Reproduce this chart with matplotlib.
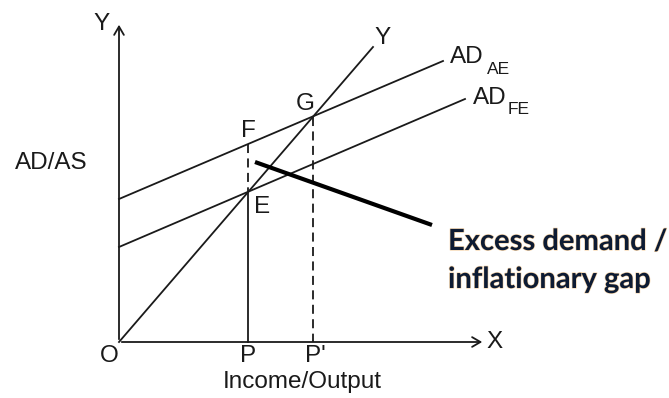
import matplotlib
matplotlib.use("Agg")
import matplotlib.pyplot as plt
import matplotlib.patheffects as pe

# ---- data (diagram units: origin O at (0,0)) ----
y_line_x = [0, 254]
y_line_y = [0, 295]
ad_ae_x = [0, 324]
ad_ae_y = [143, 281]
ad_fe_x = [0, 346]
ad_fe_y = [95, 243]
point_E = (129, 150)
point_F = (129, 198)
point_G = (194, 225)
x_axis_end = 366
y_axis_end = 320
gap_pointer_x = [136, 313]
gap_pointer_y = [180, 117]
tick_labels = ["O", "P", "P'"]
tick_pos = [0, 129, 194]

plt.rcParams['font.family'] = ['Liberation Sans', 'DejaVu Sans']
fig = plt.figure(figsize=(6.69, 3.98), dpi=100)
ax = fig.add_axes([0, 0, 1, 1])
ax.set_xlim(-119, 550)
ax.set_ylim(-56, 342)
ax.axis('off')

lw = 1.3
c = '#1a1a1a'
# axes with open arrowheads
ax.annotate('', xy=(0, y_axis_end), xytext=(0, 0),
            arrowprops=dict(arrowstyle='->,head_length=0.6,head_width=0.35', lw=lw, color=c))
ax.annotate('', xy=(x_axis_end, 0), xytext=(0, 0),
            arrowprops=dict(arrowstyle='->,head_length=0.6,head_width=0.35', lw=lw, color=c))

# lines
ax.plot(y_line_x, y_line_y, color=c, lw=lw)
ax.plot(ad_ae_x, ad_ae_y, color=c, lw=lw)
ax.plot(ad_fe_x, ad_fe_y, color=c, lw=lw)

# verticals
ax.plot([point_F[0], point_E[0]], [point_F[1], point_E[1]], color=c, lw=lw, dashes=(5, 3))
ax.plot([point_E[0], point_E[0]], [point_E[1], 0], color=c, lw=lw)
ax.plot([point_G[0], point_G[0]], [point_G[1], 0], color=c, lw=lw, dashes=(5, 3))

# pointer
ax.plot(gap_pointer_x, gap_pointer_y, color='black', lw=3.0, solid_capstyle='butt')

fs = 17.5
sfs = 12.5
ax.text(-17, 318, 'Y', fontsize=fs, ha='center', va='center', color=c)
ax.text(-104, 179, 'AD/AS', fontsize=fs, ha='left', va='center', color=c)
ax.text(-10, -14, tick_labels[0], fontsize=fs, ha='center', va='center', color=c)
ax.text(tick_pos[1], -14, tick_labels[1], fontsize=fs, ha='center', va='center', color=c)
ax.text(tick_pos[2] + 2, -14, tick_labels[2], fontsize=fs, ha='center', va='center', color=c)
ax.text(183, -40, 'Income/Output', fontsize=fs, ha='center', va='center', color=c)
ax.text(376, 0, 'X', fontsize=fs, ha='center', va='center', color=c)
ax.text(264, 304, 'Y', fontsize=fs, ha='center', va='center', color=c)
ax.text(331, 285, 'AD', fontsize=fs, ha='left', va='center', color=c)
ax.text(368, 273, 'AE', fontsize=sfs, ha='left', va='center', color=c)
ax.text(354, 244, 'AD', fontsize=fs, ha='left', va='center', color=c)
ax.text(389, 233, 'FE', fontsize=sfs, ha='left', va='center', color=c)
ax.text(point_F[0], 211, 'F', fontsize=fs, ha='center', va='center', color=c)
ax.text(186, 238, 'G', fontsize=fs, ha='center', va='center', color=c)
ax.text(143, 135, 'E', fontsize=fs, ha='center', va='center', color=c)

glow = [pe.withStroke(linewidth=0.9, foreground='#f5d2a6')]
ax.text(329, 92, 'Excess demand /', fontsize=21, fontweight='bold', family='Lato',
        ha='left', va='baseline', color='#0d1b33', path_effects=glow)
ax.text(329, 54, 'inflationary gap', fontsize=21, fontweight='bold', family='Lato',
        ha='left', va='baseline', color='#0d1b33', path_effects=glow)

fig.savefig('out.png', dpi=100)
